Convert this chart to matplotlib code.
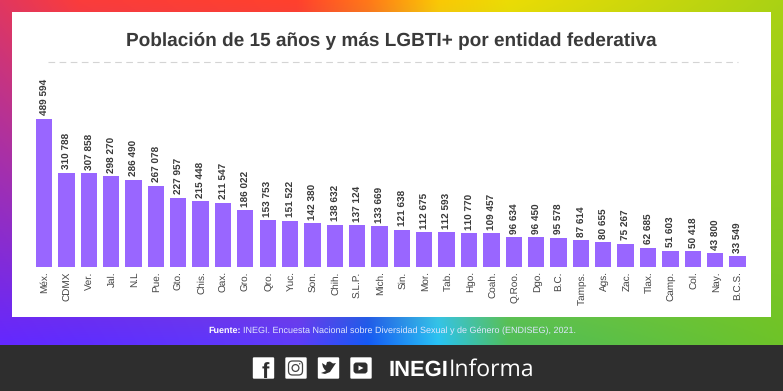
import numpy as np
import matplotlib
matplotlib.use("Agg")
import matplotlib.pyplot as plt
from matplotlib.patches import FancyBboxPatch, Rectangle, Circle, Polygon
from matplotlib.transforms import ScaledTranslation

plt.rcParams['font.family'] = ['Liberation Sans', 'DejaVu Sans']
plt.rcParams['text.hinting'] = 'no_hinting'
plt.rcParams['text.hinting_factor'] = 1

W, H = 783, 391

estados = ["Méx.", "CDMX", "Ver.", "Jal.", "N.L", "Pue.", "Gto.", "Chis.", "Oax.", "Gro.", "Qro.",
           "Yuc.", "Son.", "Chih.", "S.L.P.", "Mich.", "Sin.", "Mor.", "Tab.", "Hgo.", "Coah.",
           "Q.Roo.", "Dgo.", "B.C.", "Tamps.", "Ags.", "Zac.", "Tlax.", "Camp.", "Col.", "Nay.", "B.C.S."]
poblacion = [489594, 310788, 307858, 298270, 286490, 267078, 227957, 215448, 211547, 186022, 153753,
             151522, 142380, 138632, 137124, 133669, 121638, 112675, 112593, 110770, 109457,
             96634, 96450, 95578, 87614, 80655, 75267, 62685, 51603, 50418, 43800, 33549]

# rainbow frame colours, top edge and bottom edge
grad_x = [0, 0.1, 0.38, 0.47, 0.56, 0.65, 1]
grad_top = [(225, 55, 95), (250, 60, 60), (255, 65, 45), (255, 120, 25), (250, 200, 5), (235, 220, 5), (170, 210, 20)]
grad_bot = [(100, 40, 255), (95, 45, 255), (95, 60, 250), (20, 90, 245), (40, 195, 245), (80, 190, 90), (110, 195, 40)]


def px_rect(x0, y0, x1, y1):
    return [x0 / W, 1 - y1 / H, (x1 - x0) / W, (y1 - y0) / H]


def gradient():
    xs = np.linspace(0, 1, 400)
    top = np.array([np.interp(xs, grad_x, [c[i] for c in grad_top]) for i in range(3)]).T
    bot = np.array([np.interp(xs, grad_x, [c[i] for c in grad_bot]) for i in range(3)]).T
    t = np.linspace(0, 1, 100)[:, None, None]
    return ((1 - t) * top[None, :, :] + t * bot[None, :, :]) / 255


fig = plt.figure(figsize=(W / 100, H / 100), dpi=100)

# page layer in pixel coordinates, y going down
bg = fig.add_axes([0, 0, 1, 1])
bg.set_xlim(0, W)
bg.set_ylim(H, 0)
bg.axis("off")
bg.imshow(gradient(), extent=(0, W, 345, 0), aspect="auto", interpolation="bilinear", zorder=0)
bg.set_xlim(0, W)
bg.set_ylim(H, 0)
bg.add_patch(Rectangle((12, 12), 759, 305, fc="white", ec="none", zorder=1))
bg.add_patch(Rectangle((0, 345), W, 46, fc="#2e2e2e", ec="none", zorder=1))

bg.text(391.5, 41, "Población de 15 años y más LGBTI+ por entidad federativa", ha="center", va="center",
        fontsize=13.8, fontweight="bold", color="#3a3a3a", zorder=2)
bg.plot([48, 738], [62, 62], color="#d4d4d4", lw=0.8, dashes=(6, 4), zorder=2)

bg.text(208, 331, "Fuente:", ha="left", va="center", fontsize=6.5, fontweight="bold", color="white", zorder=2)
bg.text(243, 331, "INEGI. Encuesta Nacional sobre Diversidad Sexual y de Género (ENDISEG), 2021.",
        ha="left", va="center", fontsize=6.5, color="#dfe6ff", zorder=2)

# social icons
for x0 in [252.5, 285, 317.5, 350]:
    bg.add_patch(FancyBboxPatch((x0 + 1, 358), 20, 20, boxstyle="round,pad=0,rounding_size=0.5",
                                fc="white", ec="white", lw=1, zorder=2))
bg.text(265.5, 372, "f", ha="center", va="center", fontsize=16, fontweight="bold", color="#2e2e2e", zorder=3)
bg.add_patch(FancyBboxPatch((288.5, 361), 14, 14, boxstyle="round,pad=0,rounding_size=4",
                            fc="white", ec="#444444", lw=0.9, zorder=3))
bg.add_patch(Circle((295.5, 368), 3.4, fc="white", ec="#444444", lw=0.9, zorder=4))
bg.add_patch(Circle((299.7, 363.8), 0.7, fc="#444444", ec="none", zorder=4))
bg.add_patch(Polygon([(321, 373), (325, 374), (330, 372), (334, 366), (336, 363), (333, 363.5), (330, 361.5),
                      (327, 362), (326, 365.5), (322, 363), (323, 367), (324.5, 369.5), (326, 371)],
                     fc="#2e2e2e", ec="none", zorder=3))
bg.add_patch(FancyBboxPatch((353.5, 362.5), 14, 11, boxstyle="round,pad=0,rounding_size=3",
                            fc="#2e2e2e", ec="none", zorder=3))
bg.add_patch(Polygon([(358.5, 365.5), (358.5, 370.5), (363.5, 368)], fc="white", ec="none", zorder=4))

bg.text(389, 376, "INEGI", ha="left", va="baseline", fontsize=15.5, fontweight="bold", color="white", zorder=3)
bg.text(449, 376, "Informa", ha="left", va="baseline", fontsize=16.4, color="white", family="Open Sans", zorder=3)

# bars
baseline = 266.5
top_px = 70
px_per_unit = (266.5 - 118.5) / poblacion[0]
ax = fig.add_axes(px_rect(32.8, top_px, 32.8 + 32 * 22.37, baseline))
ax.patch.set_alpha(0)
x = np.arange(len(estados))
ax.bar(x, poblacion, width=0.73, color="#9966ff")
ax.set_xlim(-0.5, len(estados) - 0.5)
ax.set_ylim(0, (baseline - top_px) / px_per_unit)
ax.set_yticks([])
ax.set_xticks(x)
ax.set_xticklabels(estados, rotation=90, fontsize=7.3, color="#444444")
ax.tick_params(axis="x", length=0, pad=3.5)
# nudge the rotated labels onto the bar centres
for t in ax.get_xticklabels():
    t.set_transform(t.get_transform() + ScaledTranslation(1 / 100, 0, fig.dpi_scale_trans))
for s in ax.spines.values():
    s.set_visible(False)

for i, v in enumerate(poblacion):
    lab = f"{v:,}".replace(",", " ")
    ax.annotate(lab, (i, v), xytext=(0.8, 2.5), textcoords="offset points", rotation=90,
                ha="center", va="bottom", fontsize=7.1, fontweight="bold", color="#3a3a3a",
                annotation_clip=False)

fig.savefig("out.png", dpi=100)
